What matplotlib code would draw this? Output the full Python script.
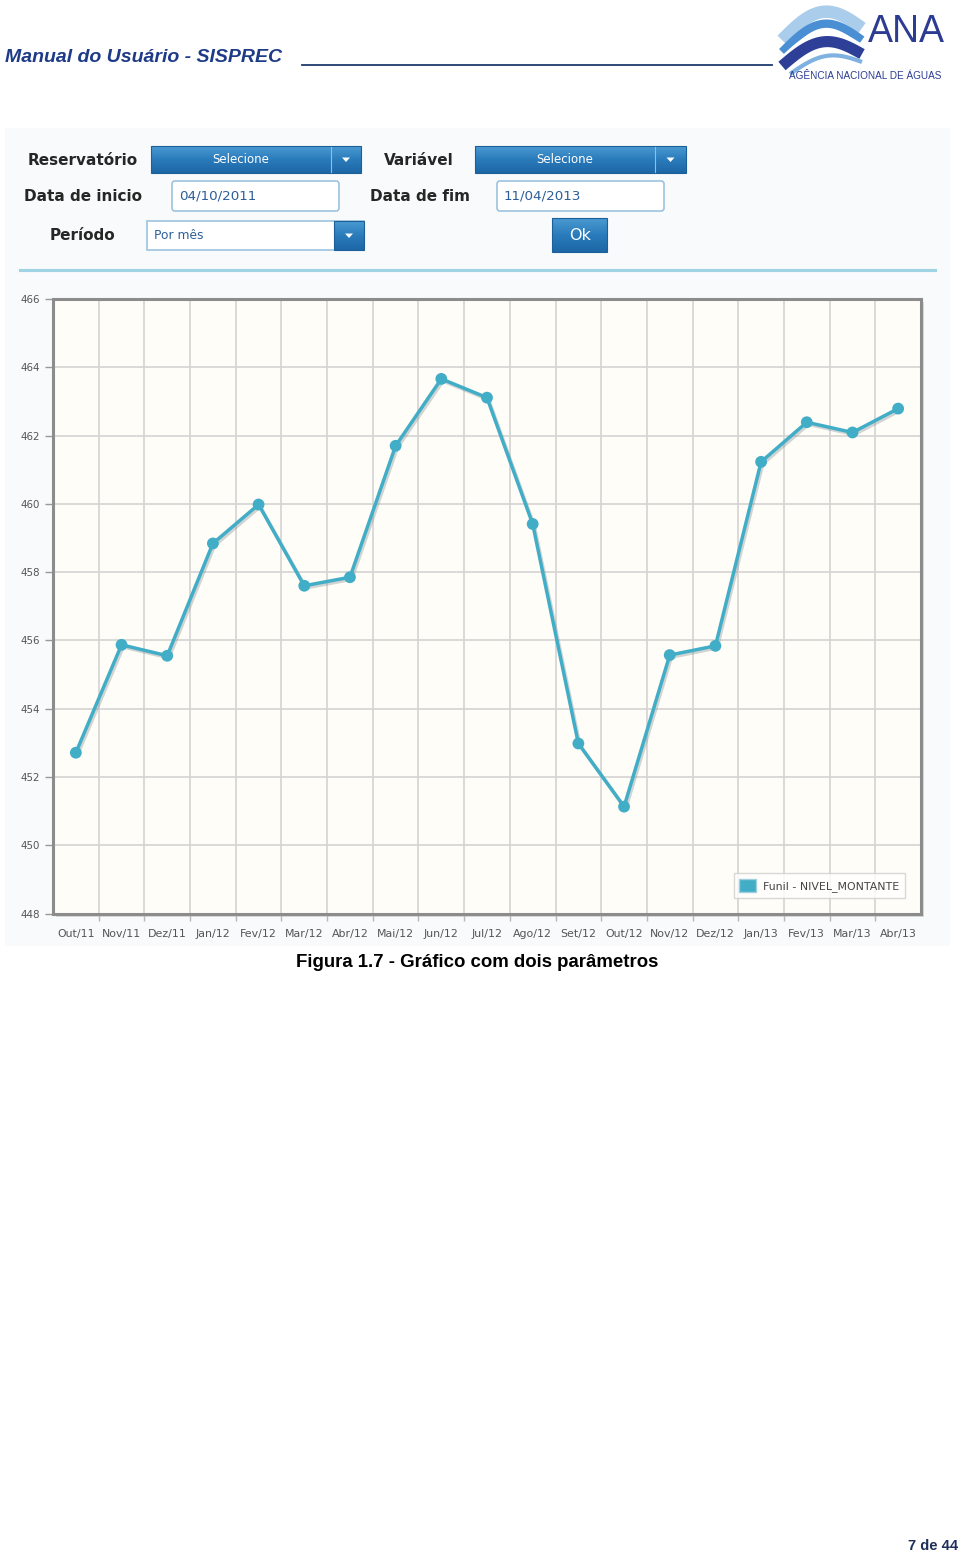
import matplotlib
matplotlib.use('Agg')
import matplotlib.pyplot as plt
import numpy as np
from matplotlib.patches import Rectangle, FancyBboxPatch, Patch, Polygon
from matplotlib.colors import LinearSegmentedColormap
import matplotlib.patheffects as pe

# ---------------- data ----------------
months = ["Out/11", "Nov/11", "Dez/11", "Jan/12", "Fev/12", "Mar/12", "Abr/12",
          "Mai/12", "Jun/12", "Jul/12", "Ago/12", "Set/12", "Out/12", "Nov/12",
          "Dez/12", "Jan/13", "Fev/13", "Mar/13", "Abr/13"]
nivel = [452.71, 455.87, 455.55, 458.84, 459.98, 457.60, 457.85, 461.70, 463.66,
         463.11, 459.41, 452.98, 451.13, 455.57, 455.84, 461.23, 462.39, 462.09, 462.79]
series_name = "Funil - NIVEL_MONTANTE"
y_ticks = [448, 450, 452, 454, 456, 458, 460, 462, 464, 466]

W, H = 960, 1557
fig = plt.figure(figsize=(9.6, 15.57), dpi=100)
fig.patch.set_facecolor('white')

bg = fig.add_axes([0, 0, 1, 1])
bg.set_xlim(0, W)
bg.set_ylim(H, 0)
bg.axis('off')

# ---------------- page header ----------------
navy = '#1d3b86'
bg.text(5, 57, "Manual do Usuário - SISPREC", fontsize=14, fontweight='bold',
        fontstyle='italic', family='Liberation Sans', color=navy, ha='left', va='center')
bg.plot([302, 772], [64.5, 64.5], color='#1f3a70', lw=1.3)

# ANA logo (decorative waves)
def band(pts, color, lw):
    pts = np.array(pts, dtype=float)
    bg.plot(pts[:, 0], pts[:, 1], color=color, lw=lw, solid_capstyle='butt',
            solid_joinstyle='round')

t = np.linspace(0, 1, 40)
def wave(x0, y0, x1, y1, amp):
    xs = x0 + (x1 - x0) * t
    ys = y0 + (y1 - y0) * t - amp * np.sin(np.pi * t)
    return np.column_stack([xs, ys])

band(wave(782, 40, 862, 28, 22), '#a9cdea', 9)
band(wave(782, 52, 862, 40, 22), '#4a8fd3', 6)
band(wave(782, 58, 862, 46, 20), '#ffffff', 2.5)
band(wave(782, 66, 862, 54, 18), '#2d3f97', 8)
band(wave(790, 74, 862, 62, 12), '#7fb2e0', 3)
bg.text(906, 32, "ANA", fontsize=27, family='Liberation Sans', color='#2c3c93',
        ha='center', va='center')
bg.text(865, 76, "AGÊNCIA NACIONAL DE ÁGUAS", fontsize=7.2, family='Liberation Sans',
        color='#2c3c93', ha='center', va='center')

# ---------------- screenshot panel ----------------
bg.add_patch(Rectangle((5, 128), 945, 818, facecolor='#f8fafb', edgecolor='none'))

lab_kw = dict(fontsize=11, fontweight='bold', family='DejaVu Sans', color='#262626',
              va='center')
bg.text(28, 160, "Reservatório", ha='left', **lab_kw)
bg.text(384, 160, "Variável", ha='left', **lab_kw)
bg.text(24, 196, "Data de inicio", ha='left', **lab_kw)
bg.text(370, 196, "Data de fim", ha='left', **lab_kw)
bg.text(50, 235, "Período", ha='left', **lab_kw)

grad = np.linspace(0, 1, 50).reshape(-1, 1)
bluecm = LinearSegmentedColormap.from_list('b', ['#4a9ad2', '#2a7bbb', '#1d67a6'])

def blue_box(x0, y0, w, h, z=3):
    bg.imshow(grad, cmap=bluecm, extent=(x0, x0 + w, y0 + h, y0), aspect='auto',
              zorder=z)
    bg.add_patch(Rectangle((x0, y0), w, h, facecolor='none', edgecolor='#1d5f98',
                           lw=0.8, zorder=z + 0.1))

def arrow(xc, yc, z=5):
    bg.add_patch(Polygon([[xc - 4, yc - 2], [xc + 4, yc - 2], [xc, yc + 2.5]],
                         closed=True, facecolor='white', edgecolor='none', zorder=z))

def dropdown(x0, y0, w, h, div):
    blue_box(x0, y0, w, h)
    bg.plot([div, div], [y0 + 1, y0 + h - 1], color='#8fc0e4', lw=0.8, zorder=4)
    yc = y0 + h / 2
    arrow((div + x0 + w) / 2, yc)
    bg.text((x0 + div) / 2, yc, "Selecione", fontsize=8.5, color='white',
            family='DejaVu Sans', ha='center', va='center', zorder=5)

dropdown(151, 146, 210, 27, 331)
dropdown(475, 146, 211, 27, 655)

def input_box(x0, y0, w, h, txt):
    bg.add_patch(FancyBboxPatch((x0, y0), w, h, boxstyle='round,pad=0,rounding_size=3',
                                facecolor='white', edgecolor='#9cc4df', lw=1.2, zorder=2))
    bg.text(x0 + 7, y0 + h / 2, txt, fontsize=9.7, color='#2b5f99',
            family='DejaVu Sans', ha='left', va='center', zorder=3)

input_box(172, 181, 167, 30, "04/10/2011")
input_box(497, 181, 167, 30, "11/04/2013")

# Por mês dropdown
bg.add_patch(Rectangle((147, 221), 217, 29, facecolor='white', edgecolor='#9cc4df',
                       lw=1.2, zorder=2))
blue_box(334, 221, 30, 29)
arrow(349, 235.5)
bg.text(154, 235, "Por mês", fontsize=8.8, color='#2b5f99', family='DejaVu Sans',
        ha='left', va='center', zorder=3)

# Ok button
blue_box(552, 218, 55, 34)
bg.text(580, 235, "Ok", fontsize=11.5, color='white', family='DejaVu Sans',
        ha='center', va='center', zorder=5)

# light separator line
bg.plot([20, 935], [270, 270], color='#9fd4e4', lw=2.2)

# chart shadow
bg.add_patch(Rectangle((56, 302), 868, 615, facecolor='#d9d9d9', edgecolor='none'))

# ---------------- chart ----------------
line_color = '#42adc7'
ax = fig.add_axes([53 / W, 1 - 913.5 / H, 868 / W, 614.5 / H])
ax.set_zorder(3)
ax.set_facecolor('#fffdf7')
x = np.arange(len(months))
ax.plot(x, nivel, color=line_color, lw=2.5, marker='o', markersize=8.5,
        markeredgewidth=0, zorder=4,
        path_effects=[pe.SimpleLineShadow(offset=(1.2, -1.5), shadow_color='#7a8a90',
                                          alpha=0.35), pe.Normal()])
ax.set_xlim(-0.5, len(months) - 0.5)
ax.set_ylim(y_ticks[0], y_ticks[-1])
ax.set_yticks(y_ticks)
ax.set_yticklabels([str(v) for v in y_ticks])
ax.set_xticks(x)
ax.set_xticklabels(months)
ax.set_xticks(np.arange(0.5, len(months) - 1, 1), minor=True)
ax.grid(which='minor', axis='x', color='#d4d4d4', lw=1.2)
ax.grid(which='major', axis='y', color='#d4d4d4', lw=1.2)
ax.set_axisbelow(True)
ax.tick_params(axis='x', which='major', length=0, pad=11, labelsize=7.9,
               labelcolor='#555555')
ax.tick_params(axis='x', which='minor', length=5, color='#b8b8b8', width=1,
               direction='out')
ax.tick_params(axis='y', which='major', length=6, color='#999999', width=1, pad=3.5,
               labelsize=7.4, labelcolor='#555555')
for s in ax.spines.values():
    s.set_color('#8c8c8c')
    s.set_linewidth(2.2)

leg = ax.legend(handles=[Patch(facecolor=line_color, edgecolor='#9fd0dc',
                               label=series_name)],
                loc='lower right', bbox_to_anchor=(0.9816, 0.026), borderaxespad=0,
                fontsize=7.9, labelcolor='#444444', frameon=True, fancybox=False,
                handlelength=1.5, handleheight=1.5, handletextpad=0.7,
                borderpad=0.5)
leg.get_frame().set_edgecolor('#cfcfcf')
leg.get_frame().set_facecolor('white')
leg.get_frame().set_linewidth(1)

# ---------------- caption & footer ----------------
bg.text(477.5, 962, "Figura 1.7 - Gráfico com dois parâmetros", fontsize=13.4,
        fontweight='bold', family='Liberation Sans', color='black',
        ha='center', va='center')
bg.text(958, 1546, "7 de 44", fontsize=10.5, fontweight='bold',
        family='Liberation Sans', color='#1f2f5a', ha='right', va='center')

fig.savefig('out.png', dpi=100, facecolor='white')
